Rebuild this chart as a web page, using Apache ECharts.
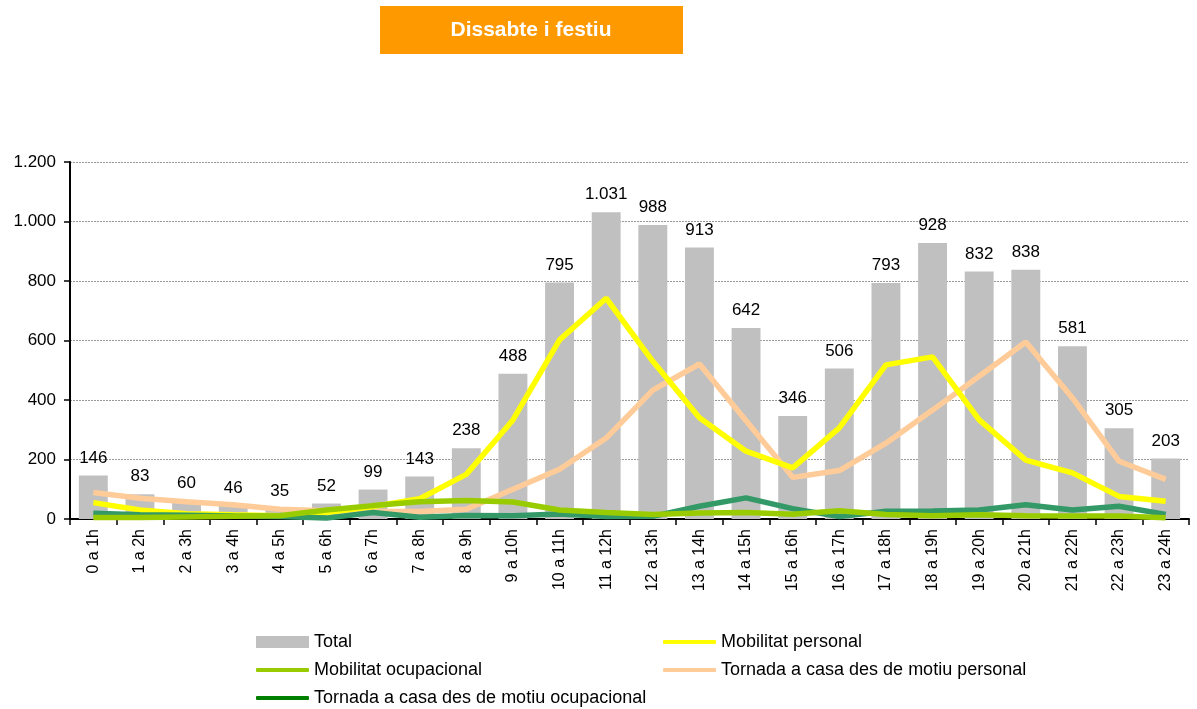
<!DOCTYPE html>
<html>
<head>
<meta charset="utf-8">
<script src="https://cdn.jsdelivr.net/npm/echarts@6/dist/echarts.min.js"></script>
<style>
html,body{margin:0;padding:0;background:#fff;}
#chart{width:1197px;height:709px;}
</style>
</head>
<body>
<div id="chart"></div>
<script>
const titleText = 'Dissabte i festiu';
const categories = ['0 a 1h','1 a 2h','2 a 3h','3 a 4h','4 a 5h','5 a 6h','6 a 7h','7 a 8h','8 a 9h','9 a 10h','10 a 11h','11 a 12h','12 a 13h','13 a 14h','14 a 15h','15 a 16h','16 a 17h','17 a 18h','18 a 19h','19 a 20h','20 a 21h','21 a 22h','22 a 23h','23 a 24h'];
const total = [146,83,60,46,35,52,99,143,238,488,795,1031,988,913,642,346,506,793,928,832,838,581,305,203];
const mobPersonal = [55,30,18,14,11,22,42,68,150,333,602,742,530,340,228,172,306,518,545,333,198,155,76,60];
const mobOcupacional = [5,5,7,9,11,30,45,58,62,57,30,22,15,20,22,16,28,15,11,14,11,10,10,4];
const tornPersonal = [89,70,58,48,33,28,26,25,33,100,167,272,433,521,330,140,163,255,366,480,595,407,194,133];
const tornOcupacional = [19,14,13,10,8,3,22,6,12,11,17,8,9,43,71,35,8,26,27,30,48,30,43,15];
const yTicks = [0,200,400,600,800,1000,1200];

const names = ['Total','Mobilitat personal','Mobilitat ocupacional','Tornada a casa des de motiu personal','Tornada a casa des de motiu ocupacional'];
const FONT = 'Liberation Sans, Arial, sans-serif';

function fmt(v){ return String(v).replace(/\B(?=(\d{3})+(?!\d))/g,'.'); }

const chart = echarts.init(document.getElementById('chart'));
function legendAt(item, left, top, isBar){
  return {
    data: [item], left: left, top: top, padding: 0, itemWidth: 53, itemHeight: isBar ? 12 : 4,
    icon: isBar ? 'rect' : 'roundRect',
    textStyle: {fontFamily: FONT, fontSize: 18, color: '#000'},
    selectedMode: false
  };
}
chart.setOption({
  animation: false,
  textStyle: {fontFamily: FONT},
  graphic: [
    {type:'rect', shape:{x:380,y:6,width:303,height:48}, style:{fill:'#FF9900'}},
    {type:'text', x:531, y:30, style:{text:titleText, fill:'#fff', font:'bold 21px Liberation Sans, Arial, sans-serif', textAlign:'center', textVerticalAlign:'middle'}}
  ],
  grid: {left: 70, right: 8, top: 162, bottom: 190, containLabel: false},
  legend: [
    legendAt(names[0], 256, 633, true),
    legendAt(names[1], 663, 633),
    legendAt(names[2], 256, 661),
    legendAt(names[3], 663, 661),
    legendAt({name:names[4], itemStyle:{color:'#008000'}}, 256, 689)
  ],
  xAxis: {
    type: 'category', data: categories, boundaryGap: true,
    axisLine: {lineStyle: {color: '#000', width: 2}},
    axisTick: {show: true, interval: 0, length: 6, lineStyle: {color:'#000', width: 1.5}},
    axisLabel: {rotate: 90, interval: 0, fontSize: 16, color: '#000', fontFamily: FONT, margin: 10}
  },
  yAxis: {
    type: 'value', min: 0, max: 1200, interval: 200,
    axisLine: {show: true, lineStyle: {color: '#000', width: 2}},
    axisTick: {show: true, length: 6, lineStyle: {color:'#000', width: 1.5}},
    axisLabel: {fontSize: 17, color: '#000', fontFamily: FONT, margin: 14, formatter: function(v){ return fmt(v); }},
    splitLine: {show: true, lineStyle: {color: '#999', type: [2,1], width: 1}}
  },
  series: [
    {name: names[0], type: 'bar', data: total, barCategoryGap: '38%', z: 1,
      itemStyle: {color: '#C0C0C0'},
      label: {show: true, position: 'top', distance: 9, fontSize: 17, color: '#000', fontFamily: FONT,
        formatter: function(p){ return fmt(p.value); }}},
    {name: names[3], type: 'line', data: tornPersonal, symbol: 'none', z: 3,
      lineStyle: {color: '#FFCC99', width: 5.5}, itemStyle: {color: '#FFCC99'}},
    {name: names[1], type: 'line', data: mobPersonal, symbol: 'none', z: 4,
      lineStyle: {color: '#FFFF00', width: 5.5}, itemStyle: {color: '#FFFF00'}},
    {name: names[4], type: 'line', data: tornOcupacional, symbol: 'none', z: 5,
      lineStyle: {color: '#339966', width: 5.5}, itemStyle: {color: '#339966'}},
    {name: names[2], type: 'line', data: mobOcupacional, symbol: 'none', z: 6,
      lineStyle: {color: '#99CC00', width: 5.5}, itemStyle: {color: '#99CC00'}}
  ]
});
</script>
</body>
</html>
